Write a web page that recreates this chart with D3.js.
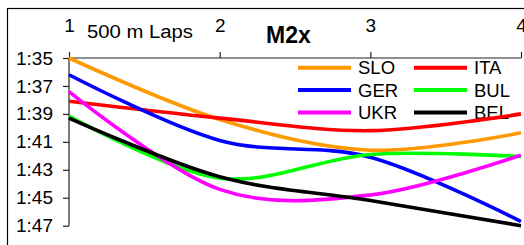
<!DOCTYPE html>
<html>
<head>
<meta charset="utf-8">
<script src="https://cdn.jsdelivr.net/npm/d3@7"></script>
<style>
  body { margin: 0; background: #fff; }
  svg { display: block; font-family: "Liberation Sans", Arial, sans-serif; }
</style>
</head>
<body>
<div id="chart"></div>
<script>
// laps (500 m)
const laps = [1, 2, 3, 4];
// lap times in seconds
const SLO = [95.0, 99.4, 101.6, 100.35];
const ITA = [98.1, 99.3, 100.2, 99.0];
const GER = [96.2, 100.9, 102.1, 106.7];
const BUL = [99.15, 103.6, 101.9, 102.05];
const UKR = [97.4, 104.4, 104.8, 101.95];
const BEL = [99.3, 103.5, 105.2, 107.0];
const crews = ['SLO', 'ITA', 'GER', 'BUL', 'UKR', 'BEL'];
const yTicks = [95, 97, 99, 101, 103, 105, 107];

const colors = {SLO: '#FF9900', ITA: '#FF0000', GER: '#0000FF', BUL: '#00FF00', UKR: '#FF00FF', BEL: '#000000'};
const values = {SLO, ITA, GER, BUL, UKR, BEL};

const width = 524, height = 245;
const svg = d3.select('#chart').append('svg')
    .attr('width', width)
    .attr('height', height);

// рамка
svg.append('rect')
    .attr('x', 7.5).attr('y', 8.5)
    .attr('width', 600).attr('height', 400)
    .attr('fill', 'none')
    .attr('stroke', '#000')
    .attr('stroke-width', 1.2);

const x = d3.scaleLinear().domain([1, 4]).range([69, 521]);
const y = d3.scaleLinear().domain([95, 107]).range([58, 225.7]);

const fmt = s => Math.floor(s / 60) + ':' + String(Math.round(s % 60)).padStart(2, '0');

// оси
const gx = svg.append('g')
    .attr('transform', 'translate(0,58)')
    .call(d3.axisTop(x).tickValues(laps).tickFormat(d3.format('d')).tickSize(6).tickPadding(20));
const gy = svg.append('g')
    .attr('transform', 'translate(69,0)')
    .call(d3.axisLeft(y).tickValues(yTicks).tickFormat(fmt).tickSize(6).tickPadding(10));

[gx, gy].forEach(g => {
    g.selectAll('path, line').attr('stroke', '#222').attr('stroke-width', 1.2);
    g.selectAll('text').attr('fill', '#000').style('font-size', '19px')
        .style('font-family', '"Liberation Sans", Arial, sans-serif');
});
gx.select('.domain').attr('d', 'M69,0H521');
gy.select('.domain').attr('d', 'M0,58V225.7');

svg.append('text')
    .attr('x', 87).attr('y', 38)
    .attr('textLength', 106).attr('lengthAdjust', 'spacingAndGlyphs')
    .style('font-size', '18px')
    .text('500 m Laps');

svg.append('text')
    .attr('x', 266).attr('y', 43)
    .style('font-size', '23px').style('font-weight', 'bold')
    .text('M2x');

// легенда
const legendOrder = ['SLO', 'GER', 'UKR', 'ITA', 'BUL', 'BEL'];
const legend = svg.append('g');
legendOrder.forEach((c, i) => {
    const col = Math.floor(i / 3), row = i % 3;
    const lx = 298 + col * 116, ly = 67.7 + row * 22.4;
    legend.append('line')
        .attr('x1', lx).attr('x2', lx + 53)
        .attr('y1', ly).attr('y2', ly)
        .attr('stroke', colors[c]).attr('stroke-width', 4);
    legend.append('text')
        .attr('x', lx + 60).attr('y', ly + 6.4)
        .style('font-size', '18.5px')
        .text(c);
});

// линии
const line = d3.line()
    .x((d, i) => x(laps[i]))
    .y(d => y(d))
    .curve(d3.curveCardinal.tension(0));

svg.append('g').selectAll('path')
    .data(crews)
    .join('path')
    .attr('d', c => line(values[c]))
    .attr('fill', 'none')
    .attr('stroke', c => colors[c])
    .attr('stroke-width', 3.6)
    .attr('stroke-linejoin', 'round');
</script>
</body>
</html>
